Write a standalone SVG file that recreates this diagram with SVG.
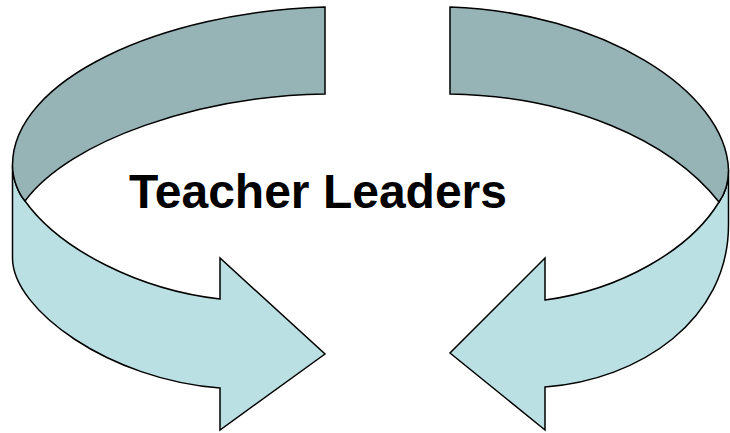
<svg xmlns="http://www.w3.org/2000/svg" width="730" height="433" viewBox="0 0 730 433">
  <style>
    .front { fill: #BBE0E3; stroke: #000; stroke-width: 1.5; stroke-linejoin: miter; }
    .back { fill: #96B3B6; stroke: #000; stroke-width: 1.5; stroke-linejoin: miter; }
    .title { font-family: "Liberation Sans", Arial, sans-serif; font-weight: bold; font-size: 48px; fill: #000; }
  </style>
  <rect width="730" height="433" fill="#fff"/>

  <!-- left curved arrow, pointing right -->
  <g id="arrow-left">
    <path class="front" d="M12.5,165 L12.5,258 C12.5,310 110,380 220,388 L220,430 L325,354 L220,258 L220,299 C140,290 60,250 25,201 C19,194 12.5,180 12.5,165 Z"/>
    <path class="back" d="M325,7 L325,94 C200,96 70,140 25,201 C19,194 12.5,180 12.5,165 C12.5,80 160,12 325,7 Z"/>
  </g>

  <!-- right curved arrow, pointing left -->
  <g id="arrow-right">
    <path class="front" d="M728.5,170 L728.5,225 C728.5,320 640,380 545,387 L545,430 L450,353 L545,258 L545,300 C620,290 690,250 719,202 C724,195 728.5,185 728.5,170 Z"/>
    <path class="back" d="M450,7 L450,94 C570,96 670,140 719,202 C724,195 728.5,185 728.5,170 C726,90 600,12 450,7 Z"/>
  </g>

  <g id="label">
    <text class="title" x="129" y="208">Teacher Leaders</text>
  </g>
</svg>
